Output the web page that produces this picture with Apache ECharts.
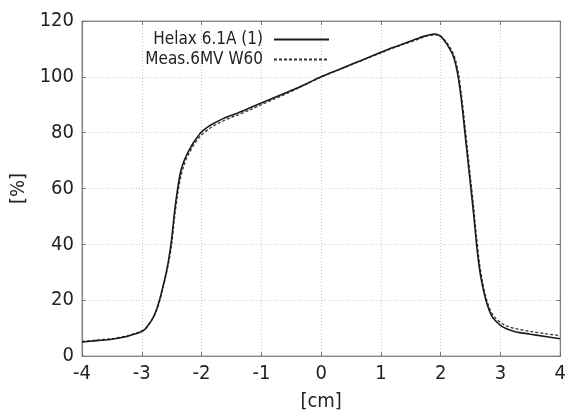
<!DOCTYPE html>
<html>
<head>
<meta charset="utf-8">
<script src="https://cdn.jsdelivr.net/npm/echarts@6/dist/echarts.min.js"></script>
<style>
html,body{margin:0;padding:0;background:#fff;}
#c{width:569px;height:417px;}
</style>
</head>
<body>
<div id="c"></div>
<script>
const xPositions = [-4, -3.75, -3.5, -3.25, -3.1, -3.0, -2.95, -2.9, -2.85, -2.8, -2.75, -2.7, -2.65, -2.6, -2.55, -2.5, -2.45, -2.4, -2.35, -2.3, -2.25, -2.2, -2.15, -2.1, -2.05, -2.0, -1.9, -1.8, -1.7, -1.6, -1.5, -1.4, -1.2, -1.0, -0.8, -0.6, -0.4, -0.2, 0, 0.2, 0.4, 0.6, 0.8, 1.0, 1.2, 1.4, 1.6, 1.7, 1.8, 1.9, 1.95, 2.0, 2.05, 2.1, 2.15, 2.2, 2.25, 2.3, 2.35, 2.4, 2.45, 2.5, 2.55, 2.6, 2.65, 2.7, 2.75, 2.8, 2.85, 2.9, 3.0, 3.1, 3.25, 3.5, 3.75, 4.0];
const helaxValues = [5.0, 5.5, 6.0, 7.0, 8.0, 8.8, 9.5, 10.8, 12.3, 14.2, 16.8, 20.3, 24.5, 29.0, 34.5, 42, 52, 60, 66, 69.5, 72, 74, 76, 77.5, 79, 80.3, 82, 83.3, 84.4, 85.4, 86.2, 87, 88.8, 90.6, 92.4, 94.2, 96.0, 98.0, 100, 101.8, 103.5, 105.3, 107.0, 108.8, 110.5, 112, 113.6, 114.4, 115, 115.3, 115.1, 114.5, 113.3, 111.8, 110, 108, 104.5, 99, 91, 81, 71, 61, 51, 40, 31, 25, 20.5, 17, 14.5, 13, 11, 9.8, 8.7, 7.8, 7.0, 6.2];
const measValues = [5.2, 5.7, 6.2, 7.2, 8.2, 9.0, 9.7, 10.8, 12.3, 14.0, 16.5, 19.8, 24, 28.5, 33.5, 40, 50, 58, 64, 68, 70.8, 73, 75, 76.6, 78, 79.3, 81, 82.4, 83.6, 84.6, 85.5, 86.3, 88.1, 90.0, 91.9, 93.8, 95.8, 97.9, 99.9, 101.7, 103.4, 105.2, 106.9, 108.6, 110.3, 111.8, 113.3, 114.1, 114.8, 115.1, 115.0, 114.6, 113.6, 112.3, 110.7, 108.8, 105.8, 100.8, 93, 83.5, 73.5, 63.5, 53.5, 42.5, 33, 26.5, 21.5, 18, 15.5, 14, 12, 10.8, 9.8, 8.8, 8.0, 7.3];
const seriesNames = ['Helax 6.1A (1)', 'Meas.6MV W60'];
const xAxisTitle = '[cm]';
const yAxisTitle = '[%]';

const FONT = "'DejaVu Sans Condensed', 'Liberation Sans Narrow', sans-serif";
const pair = (xs, ys) => xs.map((x, i) => [x, ys[i]]);

const chart = echarts.init(document.getElementById('c'), null, {renderer: 'canvas'});
const tickStyle = {inside: true, length: 4, lineStyle: {color: '#777'}};
const axisLineStyle = {onZero: false, lineStyle: {color: '#888', width: 1.2}};
chart.setOption({
  animation: false,
  backgroundColor: '#fff',
  grid: {left: 82, right: 5, top: 21, bottom: 54, show: true, borderColor: '#999', borderWidth: 1, containLabel: false},
  legend: {
    orient: 'vertical', right: 234, top: 26, align: 'right',
    itemWidth: 55, itemHeight: 12, itemGap: 3,
    itemStyle: {opacity: 0},
    textStyle: {fontFamily: FONT, fontSize: 17, color: '#222', padding: [0, 6, 0, 0]},
    data: seriesNames
  },
  xAxis: [{
    type: 'value', min: -4, max: 4, interval: 1,
    axisLine: axisLineStyle, axisTick: tickStyle,
    axisLabel: {fontFamily: FONT, fontSize: 20, color: '#222', margin: 8},
    splitLine: {show: true, lineStyle: {color: '#cdcdcd', type: [1, 2]}},
    name: xAxisTitle, nameLocation: 'middle', nameGap: 36,
    nameTextStyle: {fontFamily: FONT, fontSize: 20, color: '#222'}
  }, {
    type: 'value', min: -4, max: 4, interval: 1, position: 'top',
    axisLine: axisLineStyle, axisTick: tickStyle, axisLabel: {show: false}, splitLine: {show: false}
  }],
  yAxis: [{
    type: 'value', min: 0, max: 120, interval: 20,
    axisLine: axisLineStyle, axisTick: tickStyle,
    axisLabel: {fontFamily: FONT, fontSize: 20, color: '#222', margin: 8},
    splitLine: {show: true, lineStyle: {color: '#cdcdcd', type: [1, 2]}},
    name: yAxisTitle, nameLocation: 'middle', nameGap: 48, nameRotate: 90,
    nameTextStyle: {fontFamily: FONT, fontSize: 20, color: '#222'}
  }, {
    type: 'value', min: 0, max: 120, interval: 20, position: 'right',
    axisLine: axisLineStyle, axisTick: tickStyle, axisLabel: {show: false}, splitLine: {show: false}
  }],
  series: [{
    name: seriesNames[0], type: 'line', data: pair(xPositions, helaxValues),
    symbol: 'none', smooth: 0.3, z: 3,
    lineStyle: {color: '#1a1a1a', width: 1.6, type: 'solid'},
    itemStyle: {color: '#1a1a1a'}
  }, {
    name: seriesNames[1], type: 'line', data: pair(xPositions, measValues),
    symbol: 'none', smooth: 0.3, z: 2,
    lineStyle: {color: '#333', width: 1.3, type: [3, 2]},
    itemStyle: {color: '#333'}
  }]
});
</script>
</body>
</html>
